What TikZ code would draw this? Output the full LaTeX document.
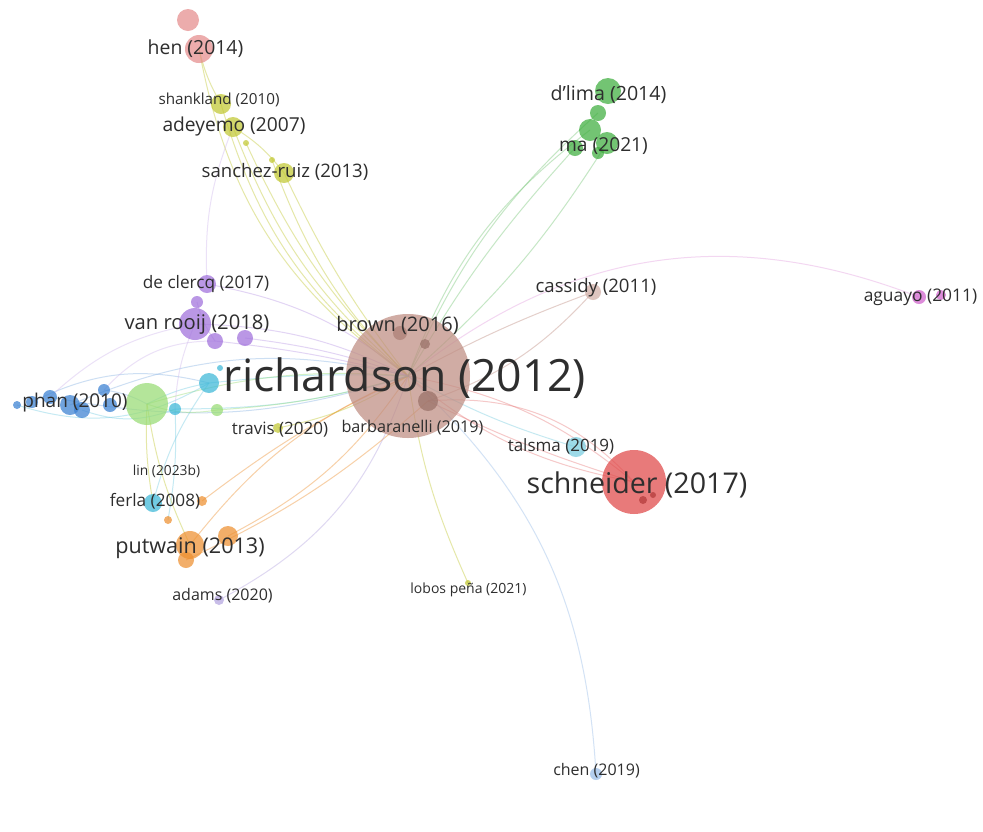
\documentclass[tikz,border=0pt]{standalone}
\usepackage{fontspec}
\setmainfont{Open Sans}
\definecolor{txt}{HTML}{2E2E2E}
\definecolor{cRich}{HTML}{BF8D82}
\definecolor{cRed}{HTML}{E04848}
\definecolor{cGreen}{HTML}{3DAE3D}
\definecolor{cPink}{HTML}{E58C8C}
\definecolor{cYel}{HTML}{C2C832}
\definecolor{cPurp}{HTML}{A070DC}
\definecolor{cCyan}{HTML}{3CB8D8}
\definecolor{cLGreen}{HTML}{98DC74}
\definecolor{cBlue}{HTML}{3A80D2}
\definecolor{cOrange}{HTML}{EE9030}
\definecolor{cLav}{HTML}{B4A4E0}
\definecolor{cMag}{HTML}{D060CC}
\definecolor{cSky}{HTML}{98BCE8}
\definecolor{cTeal}{HTML}{78CCE0}
\begin{document}
\begin{tikzpicture}[x=1pt,y=-1pt,
  bub/.style={circle,inner sep=0pt,minimum size=#1,draw=none,fill opacity=0.72},
  lbl/.style={text=txt,inner sep=0pt,font=\fontsize{#1}{#1}\selectfont},
  edge/.style={line width=1pt,draw opacity=0.42}]
\useasboundingbox (0,0) rectangle (983,831);
\fill[white] (0,0) rectangle (983,831);

% ---- bubble centres ----
\coordinate (R) at (408,376);
\coordinate (Ri1) at (428,401); \coordinate (Ri2) at (425,344); \coordinate (Ri3) at (400,333);
\coordinate (S) at (634,482); \coordinate (Si1) at (643,500); \coordinate (Si2) at (653,495);
\coordinate (T) at (576,447);
\coordinate (C) at (593,292);
\coordinate (A1) at (919,297); \coordinate (A2) at (941,295);
\coordinate (G1) at (608,91); \coordinate (G2) at (598,113); \coordinate (G3) at (590,130);
\coordinate (G4) at (607,143); \coordinate (G5) at (575,148); \coordinate (G6) at (598,153);
\coordinate (H1) at (188,20); \coordinate (H2) at (199,49);
\coordinate (Y1) at (221,104); \coordinate (Y2) at (233,127); \coordinate (Y3) at (246,143);
\coordinate (Y4) at (272,160); \coordinate (Y5) at (284,173);
\coordinate (P1) at (207,284); \coordinate (P2) at (197,302); \coordinate (P3) at (195,324);
\coordinate (P4) at (215,341); \coordinate (P5) at (245,338);
\coordinate (Cy1) at (209,383); \coordinate (Cy2) at (220,368); \coordinate (Cy3) at (175,409);
\coordinate (LG1) at (147,404); \coordinate (LG2) at (217,410);
\coordinate (B1) at (17,405); \coordinate (B2) at (32,402); \coordinate (B3) at (50,397);
\coordinate (B4) at (70,405); \coordinate (B5) at (82,410); \coordinate (B6) at (104,390);
\coordinate (B7) at (110,405);
\coordinate (F) at (153,503);
\coordinate (O1) at (190,545); \coordinate (O2) at (186,560); \coordinate (O3) at (228,536);
\coordinate (O4) at (202,501); \coordinate (O5) at (168,520);
\coordinate (Ad) at (219,600);
\coordinate (Ch) at (596,774);
\coordinate (L) at (468,583);
\coordinate (Tr) at (278,428);

% ---- links ----
% yellow / pink group above
\draw[edge,cYel] (H2) to[bend right=8] (Y1);
\draw[edge,cYel] (H2) to[bend right=22] (R);
\draw[edge,cYel] (Y1) to[bend right=18] (R);
\draw[edge,cYel] (Y2) to[bend right=14] (R);
\draw[edge,cYel] (Y3) to[bend right=10] (R);
\draw[edge,cYel] (Y4) to[bend right=12] (R);
\draw[edge,cYel] (Y5) to[bend right=6] (R);
\draw[edge,cYel] (Y2) to[bend left=10] (Y5);
\draw[edge,cPurp!50] (P1) to[bend left=12] (Y2);
% green group
\draw[edge,cGreen!70] (G2) to[bend right=12] (R);
\draw[edge,cGreen!70] (G3) to[bend right=16] (R);
\draw[edge,cGreen!70] (G5) to[bend right=6] (R);
\draw[edge,cGreen!70] (G4) to[bend left=8] (R);
% right side
\draw[edge,cMag!60] (A1) to[bend right=30] (R);
\draw[edge,cRich] (C) to[bend right=4] (R);
\draw[edge,cRich] (C) to[bend left=14] (Ri1);
\draw[edge,cRed!70] (S) to[bend left=14] (R);
\draw[edge,cRed!70] (S) to[bend right=14] (R);
\draw[edge,cRed!70] (S) to[bend right=26] (Ri1);
\draw[edge,cRed!70] (S) to[bend left=4] (Ri1);
\draw[edge,cTeal] (T) to[bend left=6] (R);
\draw[edge,cSky] (Ch) to[bend right=22] (R);
\draw[edge,cYel] (L) to[bend left=8] (R);
% lower left
\draw[edge,cOrange] (O1) to[bend left=14] (R);
\draw[edge,cOrange] (O3) to[bend right=14] (R);
\draw[edge,cOrange] (O4) to[bend left=6] (R);
\draw[edge,cOrange] (O2) to[bend right=8] (Ri1);
\draw[edge,cLav] (Ad) to[bend right=22] (R);
\draw[edge,cCyan!70] (F) to[bend left=10] (Cy1);
\draw[edge,cYel] (F) to[bend left=6] (LG1);
\draw[edge,cYel] (O1) to[bend left=8] (LG1);
\draw[edge,cCyan!70] (O5) to[bend right=6] (Cy3);
\draw[edge,cYel] (Tr) to[bend right=10] (R);
% left cluster
\draw[edge,cPurp!70] (P3) to[bend left=12] (R);
\draw[edge,cPurp!70] (P1) to[bend left=14] (R);
\draw[edge,cPurp!70] (P4) to[bend left=4] (R);
\draw[edge,cPurp!70] (P5) to[bend left=6] (R);
\draw[edge,cPurp!70] (P2) to[bend right=10] (P4);
\draw[edge,cCyan!70] (Cy1) to[bend left=4] (R);
\draw[edge,cCyan!70] (Cy3) to[bend right=8] (R);
\draw[edge,cLGreen] (LG1) to[bend left=10] (R);
\draw[edge,cLGreen] (LG2) to[bend right=6] (R);
\draw[edge,cBlue!60] (B4) to[bend left=18] (R);
\draw[edge,cBlue!60] (B3) to[bend right=14] (R);
\draw[edge,cBlue!60] (B2) to[bend left=20] (Cy1);
\draw[edge,cCyan!70] (B5) to[bend right=20] (Cy3);
\draw[edge,cCyan!70] (B1) to[bend right=24] (Cy1);
\draw[edge,cPurp!50] (B3) to[bend left=16] (P3);
\draw[edge,cPurp!50] (B6) to[bend left=24] (P4);
\draw[edge,cBlue!60] (B6) to[bend left=10] (LG1);
\draw[edge,cCyan!70] (LG1) to[bend left=8] (Cy1);
\draw[edge,cLGreen] (LG1) to[bend right=14] (LG2);
\draw[edge,cPurp!50] (P3) to[bend right=10] (Cy3);

% ---- bubbles ----
\node[bub=124,fill=cRich] (nR) at (R) {};
\node[bub=20,fill=cRich!80!black] (nRi1) at (Ri1) {};
\node[bub=10,fill=cRich!80!black] (nRi2) at (Ri2) {};
\node[bub=14,fill=cRich!90!black] (nRi3) at (Ri3) {};
\node[bub=64,fill=cRed] (nS) at (S) {};
\node[bub=8,fill=cRed!80!black] (nSi1) at (Si1) {};
\node[bub=6,fill=cRed!80!black] (nSi2) at (Si2) {};
\node[bub=20,fill=cTeal] (nT) at (T) {};
\node[bub=16,fill=cRich!70] (nC) at (C) {};
\node[bub=14,fill=cMag] (nA1) at (A1) {};
\node[bub=10,fill=cMag] (nA2) at (A2) {};
\node[bub=26,fill=cGreen] (nG1) at (G1) {};
\node[bub=16,fill=cGreen] (nG2) at (G2) {};
\node[bub=22,fill=cGreen] (nG3) at (G3) {};
\node[bub=22,fill=cGreen] (nG4) at (G4) {};
\node[bub=16,fill=cGreen] (nG5) at (G5) {};
\node[bub=12,fill=cGreen] (nG6) at (G6) {};
\node[bub=22,fill=cPink] (nH1) at (H1) {};
\node[bub=28,fill=cPink] (nH2) at (H2) {};
\node[bub=20,fill=cYel] (nY1) at (Y1) {};
\node[bub=20,fill=cYel] (nY2) at (Y2) {};
\node[bub=6,fill=cYel] (nY3) at (Y3) {};
\node[bub=6,fill=cYel] (nY4) at (Y4) {};
\node[bub=20,fill=cYel] (nY5) at (Y5) {};
\node[bub=18,fill=cPurp] (nP1) at (P1) {};
\node[bub=12,fill=cPurp] (nP2) at (P2) {};
\node[bub=32,fill=cPurp] (nP3) at (P3) {};
\node[bub=16,fill=cPurp] (nP4) at (P4) {};
\node[bub=16,fill=cPurp] (nP5) at (P5) {};
\node[bub=20,fill=cCyan] (nCy1) at (Cy1) {};
\node[bub=6,fill=cCyan] (nCy2) at (Cy2) {};
\node[bub=12,fill=cCyan] (nCy3) at (Cy3) {};
\node[bub=42,fill=cLGreen] (nLG1) at (LG1) {};
\node[bub=12,fill=cLGreen] (nLG2) at (LG2) {};
\node[bub=8,fill=cBlue] (nB1) at (B1) {};
\node[bub=12,fill=cBlue] (nB2) at (B2) {};
\node[bub=14,fill=cBlue] (nB3) at (B3) {};
\node[bub=20,fill=cBlue] (nB4) at (B4) {};
\node[bub=16,fill=cBlue] (nB5) at (B5) {};
\node[bub=12,fill=cBlue] (nB6) at (B6) {};
\node[bub=14,fill=cBlue] (nB7) at (B7) {};
\node[bub=18,fill=cCyan] (nF) at (F) {};
\node[bub=28,fill=cOrange] (nO1) at (O1) {};
\node[bub=16,fill=cOrange] (nO2) at (O2) {};
\node[bub=20,fill=cOrange] (nO3) at (O3) {};
\node[bub=10,fill=cOrange] (nO4) at (O4) {};
\node[bub=8,fill=cOrange] (nO5) at (O5) {};
\node[bub=10,fill=cLav] (nAd) at (Ad) {};
\node[bub=12,fill=cSky] (nCh) at (Ch) {};
\node[bub=6,fill=cYel] (nL) at (L) {};
\node[bub=10,fill=cYel] (nTr) at (Tr) {};

% ---- labels ----
\node[lbl=19.4] (tH) at (195.5,49) {hen (2014)};
\node[lbl=15.2] (tY1) at (219,100) {shankland (2010)};
\node[lbl=19.2] (tY2) at (234,127) {adeyemo (2007)};
\node[lbl=18.6] (tY5) at (285,172) {sanchez-ruiz (2013)};
\node[lbl=19.6] (tG1) at (608.5,95) {d’lima (2014)};
\node[lbl=19.2] (tG4) at (603.5,146.5) {ma (2021)};
\node[lbl=17.2] (tP1) at (206,284) {de clercq (2017)};
\node[lbl=20.2] (tP3) at (197,325) {van rooij (2018)};
\node[lbl=20] (tBr) at (397.5,325) {brown (2016)};
\node[lbl=18.6] (tC) at (596,288) {cassidy (2011)};
\node[lbl=17.4] (tA) at (920.5,297) {aguayo (2011)};
\node[lbl=44.5] (tR) at (405,378) {richardson (2012)};
\node[lbl=19] (tB) at (75,403) {phan (2010)};
\node[lbl=17] (tTr) at (280,430) {travis (2020)};
\node[lbl=16.2] (tBa) at (412.5,428) {barbaranelli (2019)};
\node[lbl=17] (tT) at (561,446.5) {talsma (2019)};
\node[lbl=28.6] (tS) at (637,485) {schneider (2017)};
\node[lbl=13.8] (tLi) at (166.5,471) {lin (2023b)};
\node[lbl=17.2] (tF) at (155,501) {ferla (2008)};
\node[lbl=21.6] (tO) at (190,548) {putwain (2013)};
\node[lbl=16] (tAd) at (222.5,596) {adams (2020)};
\node[lbl=14] (tL) at (468.5,590) {lobos peña (2021)};
\node[lbl=16] (tCh) at (596.5,771) {chen (2019)};
\end{tikzpicture}
\end{document}
